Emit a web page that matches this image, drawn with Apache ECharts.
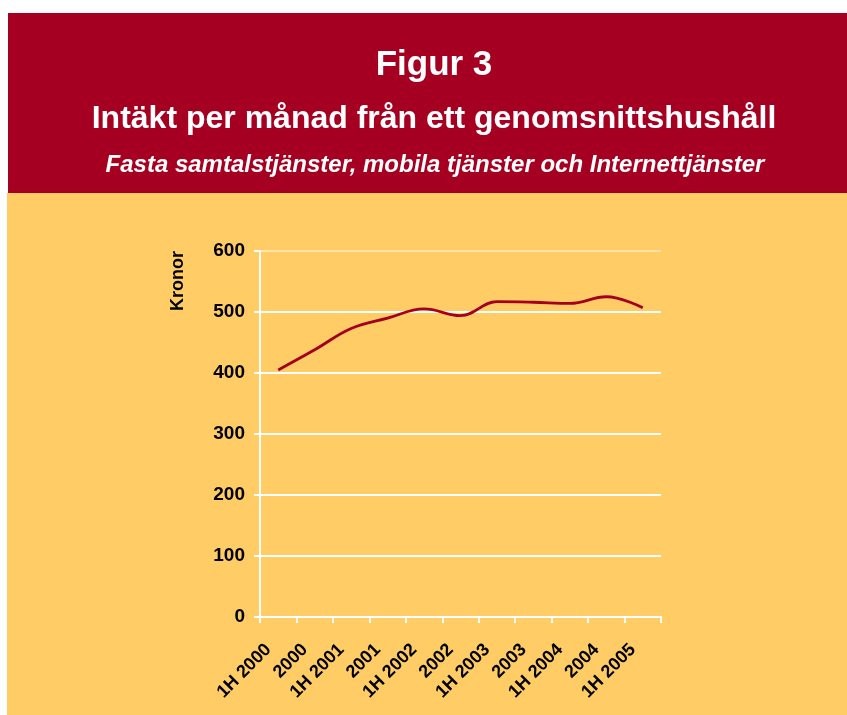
<!DOCTYPE html>
<html>
<head>
<meta charset="utf-8">
<script src="https://cdn.jsdelivr.net/npm/echarts@6/dist/echarts.min.js"></script>
<style>
    html, body { margin: 0; padding: 0; background: #fff; }
    #chart { width: 847px; height: 715px; }
</style>
</head>
<body>
<div id="chart"></div>
<script>
var categories = ["1H 2000", "2000", "1H 2001", "2001", "1H 2002", "2002", "1H 2003", "2003", "1H 2004", "2004", "1H 2005"];
var values = [405, 438, 473, 490, 505, 494, 517, 516, 514, 525, 507];
var yTicks = [0, 100, 200, 300, 400, 500, 600];

(function() {
    let myChart = echarts.init(document.getElementById("chart"));
    let font = "'Liberation Sans', Arial, sans-serif";
    let option = {
        animation: false,
        textStyle: { fontFamily: font },
        graphic: [{
            type: "rect",
            z: -10,
            shape: { x: 8, y: 13, width: 839, height: 181 },
            style: { fill: "#a50021" }
        }, {
            type: "rect",
            z: -10,
            shape: { x: 7, y: 193, width: 840, height: 522 },
            style: { fill: "#ffcc66" }
        }, {
            type: "text",
            x: 434,
            y: 65,
            style: {
                text: "Figur 3",
                fill: "#fff",
                font: "bold 35px " + font,
                align: "center",
                verticalAlign: "middle"
            }
        }, {
            type: "text",
            x: 434,
            y: 119,
            style: {
                text: "Intäkt per månad från ett genomsnittshushåll",
                fill: "#fff",
                font: "bold 32px " + font,
                align: "center",
                verticalAlign: "middle"
            }
        }, {
            type: "text",
            x: 435,
            y: 165,
            style: {
                text: "Fasta samtalstjänster, mobila tjänster och Internettjänster",
                fill: "#fff",
                font: "italic bold 24px " + font,
                align: "center",
                verticalAlign: "middle"
            }
        }, {
            type: "text",
            x: 178,
            y: 281,
            rotation: Math.PI / 2,
            style: {
                text: "Kronor",
                fill: "#000",
                font: "bold 18px " + font,
                align: "center",
                verticalAlign: "middle"
            }
        }],
        grid: {
            left: 260,
            right: 186,
            top: 251,
            bottom: 98
        },
        xAxis: {
            type: "category",
            data: categories,
            boundaryGap: true,
            axisLine: { lineStyle: { color: "#fff", width: 2 } },
            axisTick: { show: true, length: 6, lineStyle: { color: "#fff", width: 2 } },
            axisLabel: {
                rotate: 45,
                interval: 0,
                margin: 20,
                padding: [0, 14, 0, 0],
                color: "#000",
                fontSize: 18,
                fontWeight: "bold",
                fontFamily: font
            },
            splitLine: { show: false }
        },
        yAxis: {
            type: "value",
            min: yTicks[0],
            max: yTicks[yTicks.length - 1],
            interval: 100,
            axisLine: { show: true, lineStyle: { color: "#fff", width: 2 } },
            axisTick: { show: true, length: 6, lineStyle: { color: "#fff", width: 2 } },
            axisLabel: {
                color: "#000",
                fontSize: 19,
                fontWeight: "bold",
                margin: 15,
                fontFamily: font
            },
            splitLine: {
                lineStyle: {
                    color: ["#fff", "#fff", "#fff", "#fff", "#fff", "#fff", "#ffe3a8"],
                    width: 2
                }
            }
        },
        series: [{
            name: "Intäkt",
            type: "line",
            data: values,
            smooth: 0.4,
            showSymbol: false,
            lineStyle: { color: "#a50021", width: 2.8 }
        }]
    };
    myChart.setOption(option);
    window.addEventListener("resize", function() {
        myChart.resize();
    });
})();
</script>
</body>
</html>
